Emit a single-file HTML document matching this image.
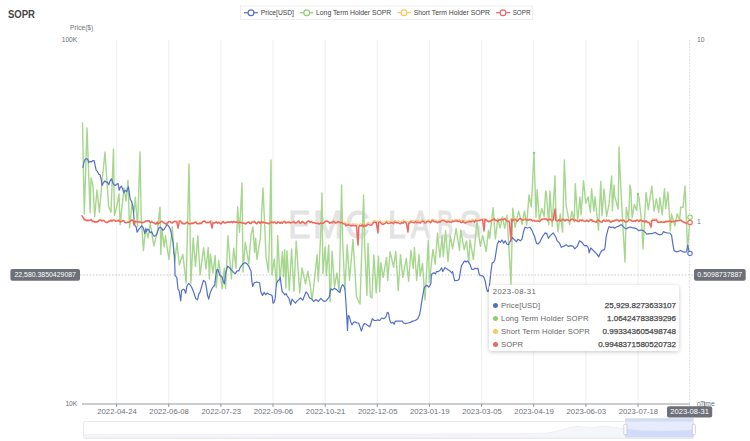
<!DOCTYPE html>
<html><head><meta charset="utf-8"><title>SOPR</title>
<style>
html,body{margin:0;padding:0;background:#fff;}
body{width:750px;height:441px;overflow:hidden;position:relative;font-family:"Liberation Sans",sans-serif;}
#root{position:absolute;left:0;top:0;width:750px;height:441px;}
svg{position:absolute;left:0;top:0;}
svg text{font-family:"Liberation Sans",sans-serif;}
#tip{position:absolute;left:489px;top:285px;width:190px;height:66px;background:#fff;border-radius:3px;
box-shadow:0 1px 4px rgba(0,0,0,0.22);font-size:7.7px;color:#666;}
#tip .d{position:absolute;left:3.7px;top:3.2px;line-height:8px;letter-spacing:0.42px;}
#tip .r{position:absolute;left:0;width:190px;height:9px;line-height:9px;}
#tip .r i{position:absolute;left:3.5px;top:2px;width:5px;height:5px;border-radius:50%;}
#tip .r span{position:absolute;left:12px;top:0;letter-spacing:0.13px;}
#tip .r b{position:absolute;right:3px;top:-0.3px;color:#484848;font-weight:normal;font-size:8px;-webkit-text-stroke:0.25px #484848;}
</style></head>
<body>
<div id="root">
<svg width="750" height="441" viewBox="0 0 750 441">
<text x="8" y="18" font-size="10.4" font-weight="bold" fill="#464646" textLength="27" lengthAdjust="spacingAndGlyphs">SOPR</text>
<!-- legend -->
<rect x="240.5" y="6" width="292" height="13.6" fill="#fff" stroke="#eaeaea" stroke-width="0.8"/>
<g stroke-width="1.2" fill="#fff">
<line x1="244" y1="12.7" x2="258" y2="12.7" stroke="#5470c6"/><circle cx="251" cy="12.7" r="2.9" stroke="#5470c6"/>
<line x1="300" y1="12.7" x2="313.3" y2="12.7" stroke="#91cc75"/><circle cx="306.7" cy="12.7" r="2.9" stroke="#91cc75"/>
<line x1="397.3" y1="12.7" x2="410.7" y2="12.7" stroke="#fac858"/><circle cx="404" cy="12.7" r="2.9" stroke="#fac858"/>
<line x1="496" y1="12.7" x2="510" y2="12.7" stroke="#ee6666"/><circle cx="503" cy="12.7" r="2.9" stroke="#ee6666"/>
</g>
<g font-size="6.8" fill="#444">
<text x="260.7" y="15.2" textLength="33.3" lengthAdjust="spacingAndGlyphs">Price[USD]</text>
<text x="316" y="15.2" textLength="75.3" lengthAdjust="spacingAndGlyphs">Long Term Holder SOPR</text>
<text x="413.7" y="15.2" textLength="76.3" lengthAdjust="spacingAndGlyphs">Short Term Holder SOPR</text>
<text x="512.7" y="15.2" textLength="17.7" lengthAdjust="spacingAndGlyphs">SOPR</text>
</g>
<!-- axis names / labels -->
<g font-size="6.7" fill="#6e7079">
<text x="70" y="30.1" textLength="23.3" lengthAdjust="spacingAndGlyphs">Price($)</text>
<text x="77.3" y="41.9" text-anchor="end">100K</text>
<text x="77.3" y="406.4" text-anchor="end">10K</text>
<text x="697" y="41.9">10</text>
<text x="697" y="224">1</text>
<text x="697" y="407">0.1</text>
<text x="700" y="406.2">Time</text>
</g>
<!-- watermark -->
<g font-size="38" fill="#e3e3e3" stroke="#e3e3e3" stroke-width="1">
<text x="288.2" y="237.5" textLength="22.3" lengthAdjust="spacingAndGlyphs">E</text>
<text x="313.0" y="237.5" textLength="30.3" lengthAdjust="spacingAndGlyphs">M</text>
<text x="345.5" y="237.5" textLength="23.9" lengthAdjust="spacingAndGlyphs">C</text>
<text x="387.9" y="237.5" textLength="17.7" lengthAdjust="spacingAndGlyphs">L</text>
<text x="410.9" y="237.5" textLength="19.0" lengthAdjust="spacingAndGlyphs">A</text>
<text x="437.1" y="237.5" textLength="16.2" lengthAdjust="spacingAndGlyphs">B</text>
<text x="459.4" y="237.5" textLength="22.2" lengthAdjust="spacingAndGlyphs">S</text>
</g>
<!-- grid -->
<g stroke="#ebebeb" stroke-width="0.75"><line x1="116.6" y1="40" x2="116.6" y2="404" /><line x1="168.7" y1="40" x2="168.7" y2="404" /><line x1="220.9" y1="40" x2="220.9" y2="404" /><line x1="273.0" y1="40" x2="273.0" y2="404" /><line x1="325.2" y1="40" x2="325.2" y2="404" /><line x1="377.3" y1="40" x2="377.3" y2="404" /><line x1="429.4" y1="40" x2="429.4" y2="404" /><line x1="481.6" y1="40" x2="481.6" y2="404" /><line x1="533.7" y1="40" x2="533.7" y2="404" /><line x1="585.9" y1="40" x2="585.9" y2="404" /><line x1="638.0" y1="40" x2="638.0" y2="404" /></g>
<!-- x axis -->
<line x1="82" y1="404" x2="690" y2="404" stroke="#6e7079" stroke-width="0.7"/>
<g stroke="#6e7079" stroke-width="0.7"><line x1="116.6" y1="404" x2="116.6" y2="407" /><line x1="168.7" y1="404" x2="168.7" y2="407" /><line x1="220.9" y1="404" x2="220.9" y2="407" /><line x1="273.0" y1="404" x2="273.0" y2="407" /><line x1="325.2" y1="404" x2="325.2" y2="407" /><line x1="377.3" y1="404" x2="377.3" y2="407" /><line x1="429.4" y1="404" x2="429.4" y2="407" /><line x1="481.6" y1="404" x2="481.6" y2="407" /><line x1="533.7" y1="404" x2="533.7" y2="407" /><line x1="585.9" y1="404" x2="585.9" y2="407" /><line x1="638.0" y1="404" x2="638.0" y2="407" /></g>
<g font-size="7.2" fill="#6e7079"><text x="117.0" y="414.1" text-anchor="middle" textLength="39.5" lengthAdjust="spacingAndGlyphs">2022-04-24</text><text x="169.1" y="414.1" text-anchor="middle" textLength="39.5" lengthAdjust="spacingAndGlyphs">2022-06-08</text><text x="221.3" y="414.1" text-anchor="middle" textLength="39.5" lengthAdjust="spacingAndGlyphs">2022-07-23</text><text x="273.4" y="414.1" text-anchor="middle" textLength="39.5" lengthAdjust="spacingAndGlyphs">2022-09-06</text><text x="325.6" y="414.1" text-anchor="middle" textLength="39.5" lengthAdjust="spacingAndGlyphs">2022-10-21</text><text x="377.7" y="414.1" text-anchor="middle" textLength="39.5" lengthAdjust="spacingAndGlyphs">2022-12-05</text><text x="429.8" y="414.1" text-anchor="middle" textLength="39.5" lengthAdjust="spacingAndGlyphs">2023-01-19</text><text x="482.0" y="414.1" text-anchor="middle" textLength="39.5" lengthAdjust="spacingAndGlyphs">2023-03-05</text><text x="534.1" y="414.1" text-anchor="middle" textLength="39.5" lengthAdjust="spacingAndGlyphs">2023-04-19</text><text x="586.3" y="414.1" text-anchor="middle" textLength="39.5" lengthAdjust="spacingAndGlyphs">2023-06-03</text><text x="638.4" y="414.1" text-anchor="middle" textLength="39.5" lengthAdjust="spacingAndGlyphs">2023-07-18</text></g>
<!-- series -->
<g fill="none" stroke-linejoin="round" stroke-linecap="round">
<path d="M82.5 123.0L84.3 214.1L87.0 128.0L90.1 212.7L91.0 178.0L93.0 186.0L94.7 216.8L97.0 190.0L99.4 212.2L102.0 182.0L105.0 152.0L108.6 206.2L111.0 212.3L113.5 149.0L114.4 215.2L116.7 206.8L119.0 194.0L120.2 224.6L122.5 202.1L124.0 188.0L126.0 201.0L128.0 180.0L129.5 228.0L131.8 204.8L134.1 211.8L135.3 197.2L137.6 226.7L140.0 152.0L141.1 213.8L143.4 250.4L145.7 227.9L148.0 237.9L150.3 223.5L153.8 245.9L157.3 231.9L160.0 207.0L160.8 254.5L161.9 229.5L164.2 247.0L165.4 235.7L168.9 259.4L172.3 226.9L174.6 262.5L177.0 242.8L179.3 265.0L182.8 254.3L186.2 283.0L189.0 164.0L190.9 283.1L193.2 238.0L195.5 266.5L197.8 235.8L200.1 275.0L203.6 247.6L205.9 268.9L208.2 247.6L209.4 279.1L210.5 254.2L212.9 273.1L215.2 255.5L216.3 287.8L218.7 260.5L222.1 288.7L224.4 268.1L225.6 288.3L227.9 235.6L231.4 279.0L233.7 248.1L236.0 268.3L237.6 207.0L239.5 232.3L242.0 183.0L243.0 272.1L245.3 242.2L248.8 263.9L251.1 234.3L253.0 227.0L254.6 252.4L255.7 238.3L256.9 259.4L260.3 238.6L263.0 188.0L266.1 257.1L268.5 272.1L269.6 234.7L271.0 160.0L271.9 274.9L274.2 259.1L276.6 285.6L277.7 235.4L280.0 281.1L282.4 251.7L283.5 276.8L284.7 249.6L285.8 288.2L287.0 250.6L289.3 290.6L291.6 248.9L293.9 291.4L296.2 241.0L299.7 293.0L302.0 268.0L305.5 283.8L307.8 271.1L310.1 283.9L312.0 300.0L313.6 287.8L317.1 254.8L318.3 281.4L320.6 237.4L322.0 193.0L322.9 273.5L325.2 246.9L326.4 275.6L328.7 245.0L330.0 302.0L331.0 282.4L332.1 251.3L334.5 287.1L336.8 272.9L339.1 291.3L341.6 185.0L342.6 240.2L344.9 289.9L347.2 244.7L349.5 280.2L353.0 239.5L356.5 296.6L360.0 304.0L363.6 195.0L364.6 243.4L366.9 295.4L368.0 243.4L370.4 296.5L372.0 298.0L373.8 254.9L376.2 292.7L378.5 256.3L379.6 291.8L380.8 262.7L383.1 277.3L386.6 257.4L387.7 280.6L390.1 251.6L393.5 267.1L395.8 251.3L398.2 290.6L400.5 254.6L402.8 277.4L406.3 258.4L408.6 281.2L410.9 250.2L413.2 268.4L414.4 247.8L416.7 280.4L419.0 254.5L420.2 276.1L422.5 263.4L425.0 300.0L428.3 240.3L429.4 282.8L432.9 249.5L435.2 264.3L437.5 233.2L439.9 257.4L442.2 235.9L443.3 256.8L445.6 230.6L448.0 261.4L450.3 235.8L452.6 248.8L456.1 228.7L459.5 250.3L460.7 229.9L464.2 249.8L466.5 240.9L468.8 262.7L470.0 239.9L473.4 259.4L476.9 221.3L480.4 246.3L482.7 235.4L486.2 251.6L488.5 230.1L489.6 238.6L493.1 207.8L495.4 239.0L497.8 218.7L500.1 227.8L502.4 216.9L504.7 228.4L507.0 215.2L511.0 284.0L512.8 208.3L515.1 227.4L518.6 211.1L522.1 224.4L524.4 211.2L526.7 225.0L529.0 195.0L531.3 206.9L534.0 153.0L536.0 217.3L537.1 189.7L539.4 220.3L541.8 208.4L544.1 216.4L545.6 191.0L546.4 192.8L548.7 224.8L549.9 190.9L552.2 226.4L553.3 204.9L555.0 176.0L555.7 207.6L558.0 231.7L560.3 214.0L562.6 232.1L564.4 160.0L566.1 205.3L569.6 224.5L571.9 211.1L574.2 221.7L575.3 183.8L577.7 220.7L580.0 197.0L581.1 214.8L583.5 180.8L585.8 203.2L588.1 197.0L590.4 212.5L591.6 188.6L593.9 211.1L595.0 196.8L598.5 230.1L600.8 181.4L602.0 215.9L604.0 189.0L606.6 216.4L608.9 205.2L611.6 176.0L612.4 211.0L614.0 185.0L614.7 196.2L618.2 209.3L619.0 147.0L620.5 182.1L622.8 224.4L625.0 262.0L626.3 207.5L628.6 219.8L630.0 185.0L630.9 190.0L632.1 218.0L634.4 204.4L636.7 210.6L638.0 194.5L639.0 197.7L641.4 220.3L643.0 249.0L644.8 214.4L646.0 192.4L648.3 209.7L651.8 186.1L654.1 211.2L656.4 198.9L658.7 212.5L659.9 197.6L662.2 214.9L664.5 188.6L665.7 208.3L668.0 192.0L670.3 230.9L671.5 214.0L674.9 226.0L677.3 213.7L679.6 220.3L680.7 207.1L683.1 207.4L685.0 186.0L687.6 250.0L690.0 217.2" stroke="#a6d78e" stroke-width="1.4"/>
<path d="M82.9 167.4L84.0 162.0L85.1 159.4L86.4 158.7L87.8 159.4L88.7 162.7L90.0 161.4L91.4 162.0L92.7 160.7L94.1 160.7L95.0 164.7L96.1 170.1L97.4 171.4L98.7 174.1L100.1 174.8L101.2 179.5L102.1 185.5L103.4 182.8L104.8 180.8L106.1 182.1L107.4 182.1L108.8 184.8L110.1 180.8L111.5 178.8L112.8 182.8L114.1 184.8L115.5 185.5L116.8 184.1L118.2 183.5L119.1 190.2L120.2 187.5L121.5 186.1L122.8 189.5L123.9 192.8L125.2 190.2L126.6 191.5L127.5 189.5L128.5 186.8L129.3 192.8L130.2 198.9L131.5 201.5L132.9 206.2L133.6 213.6L134.2 220.9L134.8 225.4L136.2 227.2L137.1 232.2L138.4 229.9L139.8 228.1L141.6 225.9L143.4 228.1L144.8 233.6L145.7 229.0L146.6 231.3L147.5 229.0L148.9 229.9L150.2 232.7L151.6 231.8L153.0 234.5L154.3 236.3L155.7 235.8L157.0 233.6L157.9 230.9L158.9 228.1L160.2 227.2L161.6 228.1L162.9 230.4L164.3 229.0L165.7 226.8L167.0 224.5L167.9 225.4L169.3 227.2L170.2 229.0L171.0 232.0L173.0 242.0L174.0 254.0L174.5 255.0L175.1 275.6L176.8 277.4L178.0 289.2L179.2 291.0L180.7 301.0L181.6 290.4L183.3 289.2L184.5 289.8L185.7 293.3L186.9 286.3L188.6 283.3L190.4 285.1L192.2 288.6L193.9 292.7L195.7 298.6L197.5 299.8L198.9 293.9L200.1 292.1L201.6 286.8L203.4 280.4L205.1 281.5L206.3 286.3L207.5 295.1L208.7 299.2L209.9 293.9L211.6 289.2L213.4 286.3L214.6 285.7L215.8 275.6L216.9 269.7L218.1 269.7L219.9 275.6L221.7 276.2L222.8 279.8L224.4 283.9L225.8 272.7L227.6 266.2L229.3 267.4L231.1 269.7L233.4 272.1L235.2 273.9L237.0 270.9L238.8 270.9L240.5 266.8L242.9 263.8L245.2 262.7L247.0 263.8L248.8 266.2L250.5 270.3L251.0 270.8L251.8 280.4L252.6 286.4L254.2 282.8L256.0 282.2L257.8 282.2L259.6 282.8L260.8 291.8L262.6 295.4L264.2 292.4L265.6 294.8L267.4 293.0L269.2 294.2L271.0 294.8L272.2 296.0L273.0 303.2L274.0 302.6L275.2 298.4L276.4 283.4L278.2 280.4L279.4 279.8L280.3 277.4L281.2 285.2L282.2 291.8L283.6 293.0L284.8 294.8L286.0 293.6L287.2 296.0L289.0 298.4L290.8 305.0L292.0 299.0L293.8 301.4L295.4 303.2L296.8 301.4L298.6 299.6L300.4 297.8L302.8 300.2L304.6 295.4L306.1 291.8L307.6 293.6L309.4 297.8L311.8 299.0L313.6 301.4L316.0 299.6L318.4 301.4L320.8 298.4L322.6 300.2L324.4 301.4L326.2 300.8L328.0 298.4L329.2 297.2L330.7 288.8L332.2 290.0L334.6 288.2L336.4 289.4L338.0 291.2L339.9 292.5L341.1 287.5L342.4 284.7L343.6 285.6L344.9 288.7L345.7 298.7L346.5 312.4L347.0 321.1L347.5 330.5L348.2 315.5L349.2 316.2L350.5 321.1L352.0 324.9L353.6 322.4L354.8 321.8L356.7 323.0L358.6 323.0L359.8 326.1L361.4 331.1L362.9 326.1L364.2 323.6L366.1 324.3L367.9 325.5L369.8 326.8L371.0 323.0L372.3 318.7L374.2 320.5L376.0 320.5L377.9 319.9L379.8 320.5L381.6 318.0L384.1 318.7L386.0 316.8L387.3 312.4L388.5 313.0L389.7 319.9L391.0 323.0L392.9 322.4L394.1 324.3L395.4 321.1L397.9 321.1L400.3 321.1L402.2 321.1L403.5 323.0L405.3 323.6L407.8 323.0L410.3 322.4L412.8 321.1L415.3 320.5L417.8 318.7L419.7 314.3L420.9 307.4L422.2 298.7L422.9 294.9L424.1 288.1L425.2 286.4L426.9 285.2L428.6 287.0L429.7 285.8L430.9 283.5L431.4 274.5L432.6 273.3L434.3 272.8L435.4 273.9L436.5 271.6L438.2 271.6L439.9 270.5L441.6 267.7L442.8 271.6L443.9 269.4L445.0 267.7L446.7 268.8L448.4 270.0L450.1 271.1L451.8 272.8L452.6 271.6L453.5 276.2L454.7 280.7L456.4 280.7L458.1 280.1L459.2 279.0L460.4 271.6L461.5 265.4L462.6 264.3L463.8 262.0L464.9 260.9L466.0 262.0L467.2 260.9L468.3 262.0L470.0 264.3L471.7 269.4L473.4 269.4L475.1 268.2L476.8 268.8L477.9 268.2L479.1 273.9L480.2 275.6L481.9 275.6L483.6 276.7L485.3 281.3L486.4 288.1L487.6 291.5L488.7 290.9L489.8 282.4L491.0 271.1L492.1 263.1L493.8 262.0L494.9 259.7L496.1 251.8L497.2 244.8L498.8 240.8L500.4 242.4L502.0 240.0L503.6 243.2L505.2 240.8L506.8 244.0L508.4 244.8L510.0 241.6L512.4 237.6L514.8 240.0L516.4 241.6L518.0 239.2L520.4 240.8L522.0 239.2L523.6 231.2L525.2 227.2L527.6 228.0L530.0 227.2L532.0 230.4L533.2 233.6L534.5 236.0L536.4 243.2L538.0 244.0L539.6 242.4L541.2 239.2L542.8 236.0L545.2 232.8L546.8 233.6L548.4 238.4L550.0 236.0L551.6 234.4L553.2 232.8L555.6 236.8L557.2 240.8L559.6 243.2L561.2 247.2L563.6 246.4L566.0 244.8L568.4 246.4L570.8 245.6L573.2 246.4L574.8 248.8L577.2 246.4L579.6 240.8L582.0 242.4L584.4 245.6L586.8 245.6L588.4 248.0L589.2 252.8L590.8 248.0L593.2 250.4L594.8 252.0L596.4 253.6L598.8 256.8L600.4 252.8L602.0 250.4L604.4 249.6L605.0 247.4L606.2 236.6L608.0 229.4L609.2 226.4L611.0 227.6L612.8 227.0L614.6 228.2L616.4 227.0L618.2 226.4L620.0 225.2L621.2 224.6L623.0 226.4L624.8 228.2L626.6 228.8L628.4 227.6L630.2 227.0L632.0 227.6L634.4 228.2L636.8 228.8L638.6 230.6L641.0 230.0L643.4 230.6L645.2 232.4L647.0 234.2L649.4 233.6L651.8 233.6L653.6 233.0L655.4 232.4L657.8 234.2L660.2 234.8L662.0 234.2L663.6 231.6L665.0 232.4L667.4 233.0L669.8 233.0L671.6 235.4L672.8 243.8L674.0 250.4L675.8 251.6L677.6 251.6L679.4 251.0L680.6 250.4L682.4 251.6L684.8 252.2L686.6 251.6L687.8 245.0L689.0 251.0L690.0 253.4" stroke="#5470c6" stroke-width="1.2"/>
<path d="M82.0 215.8L83.2 217.0L84.3 218.4L85.5 219.2L86.6 220.1L87.8 219.4L88.9 220.1L90.1 219.9L91.3 219.4L92.4 220.8L93.6 220.9L94.7 221.2L95.9 221.5L97.1 221.2L98.2 220.4L99.4 219.5L100.5 218.9L101.7 220.8L102.8 220.0L104.0 220.4L105.2 221.7L106.3 222.1L107.5 221.5L108.6 220.9L109.8 220.4L111.0 219.6L112.1 220.0L113.3 219.7L114.4 219.8L115.6 220.4L116.7 219.8L117.9 220.7L119.1 219.2L120.2 221.4L121.4 220.4L122.5 220.3L123.7 220.4L124.8 221.2L126.0 222.6L127.2 221.9L128.3 221.7L129.5 220.9L130.6 219.5L131.8 219.1L133.0 220.1L134.1 219.7L135.3 220.5L136.4 220.9L137.6 221.6L138.7 221.3L139.9 220.7L141.1 222.2L142.2 222.0L143.4 221.6L144.5 221.9L145.7 220.6L146.9 220.8L148.0 220.5L149.2 220.5L150.3 222.4L151.5 220.6L152.6 221.9L153.8 222.6L155.0 222.7L156.1 223.7L157.3 221.4L158.4 221.2L159.6 221.7L160.8 221.6L161.9 220.6L163.1 221.4L164.2 223.0L165.4 223.7L166.5 222.6L167.7 221.7L168.9 221.5L170.0 221.3L171.2 222.0L172.3 222.3L173.5 220.8L174.6 220.9L175.8 221.2L177.0 221.3L178.1 221.3L179.3 220.1L180.4 220.8L181.6 221.6L182.8 223.1L183.9 223.4L185.1 223.3L186.2 221.9L187.4 220.9L188.5 223.4L189.7 222.5L190.9 223.3L192.0 222.0L193.2 223.1L194.3 221.8L195.5 221.3L196.7 222.3L197.8 223.5L199.0 223.2L200.1 222.2L201.3 223.2L202.4 221.3L203.6 220.7L204.8 220.4L205.9 222.2L207.1 221.8L208.2 221.9L209.4 221.7L210.5 220.5L211.7 220.7L212.9 222.6L214.0 222.8L215.2 222.2L216.3 221.6L217.5 222.4L218.7 222.0L219.8 222.4L221.0 223.4L222.1 221.4L223.3 221.4L224.4 222.7L225.6 222.1L226.8 221.4L227.9 221.7L229.1 221.6L230.2 222.4L231.4 221.1L232.6 222.1L233.7 220.9L234.9 221.9L236.0 221.7L237.2 221.3L238.3 221.8L239.5 221.2L240.7 222.2L241.8 221.7L243.0 222.9L244.1 222.7L245.3 223.6L246.4 222.6L247.6 222.2L248.8 221.8L249.9 222.4L251.1 222.3L252.2 221.0L253.4 220.9L254.6 220.6L255.7 222.2L256.9 223.0L258.0 221.7L259.2 221.1L260.3 222.6L261.5 220.8L262.7 221.5L263.8 221.8L265.0 222.2L266.1 222.7L267.3 222.6L268.5 223.2L269.6 222.2L270.8 220.9L271.9 221.2L273.1 222.6L274.2 221.2L275.4 221.7L276.6 222.8L277.7 221.5L278.9 221.7L280.0 223.0L281.2 221.1L282.4 223.0L283.5 220.9L284.7 221.1L285.8 222.1L287.0 222.1L288.1 221.3L289.3 221.1L290.5 222.3L291.6 222.0L292.8 222.2L293.9 220.9L295.1 222.7L296.2 222.5L297.4 221.3L298.6 220.0L299.7 222.3L300.9 222.5L302.0 220.8L303.2 221.7L304.4 223.2L305.5 223.2L306.7 222.1L307.8 221.0L309.0 220.6L310.1 222.1L311.3 221.0L312.5 222.5L313.6 222.3L314.8 222.5L315.9 222.6L317.1 222.5L318.3 222.9L319.4 223.5L320.6 222.7L321.7 222.5L322.9 222.3L324.0 222.1L325.2 221.3L326.4 220.2L327.5 220.3L328.7 221.2L329.8 222.6L331.0 221.8L332.1 221.7L333.3 220.5L334.5 221.6L335.6 222.0L336.8 222.2L337.9 220.9L339.1 221.6L340.3 221.8L341.4 221.1L342.6 222.0L343.7 222.1L344.9 221.8L346.0 224.5L347.2 222.7L348.4 223.8L349.5 223.8L350.7 224.3L351.8 224.1L353.0 223.6L354.2 224.0L355.3 224.1L356.5 223.8L357.6 224.0L358.8 225.6L359.9 223.8L361.1 223.9L362.3 223.6L363.4 225.5L364.6 223.7L365.7 224.3L366.9 223.4L368.0 222.0L369.2 222.9L370.4 223.4L371.5 223.3L372.7 221.8L373.8 220.2L375.0 220.6L376.2 221.2L377.3 221.7L378.5 220.8L379.6 219.8L380.8 220.8L381.9 221.9L383.1 222.8L384.3 222.0L385.4 221.6L386.6 219.9L387.7 221.5L388.9 221.4L390.1 221.5L391.2 220.5L392.4 221.6L393.5 221.5L394.7 220.5L395.8 220.6L397.0 221.7L398.2 220.4L399.3 221.3L400.5 221.7L401.6 221.2L402.8 221.3L404.0 219.5L405.1 220.7L406.3 221.6L407.4 221.5L408.6 221.4L409.7 221.4L410.9 220.2L412.1 221.1L413.2 220.5L414.4 221.4L415.5 219.8L416.7 221.3L417.8 220.0L419.0 221.5L420.2 221.1L421.3 219.9L422.5 219.7L423.6 220.2L424.8 221.0L426.0 221.5L427.1 220.2L428.3 219.7L429.4 220.2L430.6 221.6L431.7 219.0L432.9 219.4L434.1 220.2L435.2 219.7L436.4 220.9L437.5 221.2L438.7 220.7L439.9 220.7L441.0 220.2L442.2 219.5L443.3 219.2L444.5 219.8L445.6 219.5L446.8 220.4L448.0 219.9L449.1 220.7L450.3 220.9L451.4 220.2L452.6 219.9L453.7 220.6L454.9 219.3L456.1 219.8L457.2 219.1L458.4 219.9L459.5 219.1L460.7 221.1L461.9 220.8L463.0 220.0L464.2 220.5L465.3 221.9L466.5 221.1L467.6 220.3L468.8 220.2L470.0 220.1L471.1 220.9L472.3 219.0L473.4 219.6L474.6 220.6L475.8 218.6L476.9 219.3L478.1 218.4L479.2 218.9L480.4 219.8L481.5 219.3L482.7 218.6L483.9 218.9L485.0 218.8L486.2 219.3L487.3 219.9L488.5 220.9L489.6 220.9L490.8 219.6L492.0 218.8L493.1 219.1L494.3 218.0L495.4 220.0L496.6 219.5L497.8 220.4L498.9 219.0L500.1 219.7L501.2 219.0L502.4 219.3L503.5 218.3L504.7 217.9L505.9 219.3L507.0 220.7L508.2 220.8L509.3 221.2L510.5 218.9L511.7 218.1L512.8 220.0L514.0 219.3L515.1 218.5L516.3 219.2L517.4 221.0L518.6 218.9L519.8 218.4L520.9 218.1L522.1 219.7L523.2 218.8L524.4 218.3L525.6 218.7L526.7 219.1L527.9 219.6L529.0 219.1L530.2 218.8L531.3 219.4L532.5 220.7L533.7 220.2L534.8 219.9L536.0 220.1L537.1 220.1L538.3 220.7L539.4 221.5L540.6 219.3L541.8 219.2L542.9 218.4L544.1 218.0L545.2 218.8L546.4 218.2L547.6 219.8L548.7 218.8L549.9 218.0L551.0 219.1L552.2 219.9L553.3 218.8L554.5 218.8L555.7 219.6L556.8 220.7L558.0 220.4L559.1 219.2L560.3 220.3L561.5 219.1L562.6 218.8L563.8 218.7L564.9 220.8L566.1 219.2L567.2 219.3L568.4 219.5L569.6 220.9L570.7 219.3L571.9 218.4L573.0 218.3L574.2 220.1L575.3 218.9L576.5 220.2L577.7 221.0L578.8 220.5L580.0 219.6L581.1 219.6L582.3 218.9L583.5 220.2L584.6 221.3L585.8 220.2L586.9 219.8L588.1 220.4L589.2 220.5L590.4 219.4L591.6 219.1L592.7 220.2L593.9 220.9L595.0 221.1L596.2 222.2L597.4 219.5L598.5 219.7L599.7 221.0L600.8 221.3L602.0 221.3L603.1 220.1L604.3 219.3L605.5 220.3L606.6 219.3L607.8 219.9L608.9 219.8L610.1 220.5L611.2 221.9L612.4 220.7L613.6 220.5L614.7 219.7L615.9 219.2L617.0 219.0L618.2 219.8L619.4 220.2L620.5 220.0L621.7 219.8L622.8 219.8L624.0 219.8L625.1 220.7L626.3 221.3L627.5 221.1L628.6 220.1L629.8 218.8L630.9 219.9L632.1 221.0L633.3 221.2L634.4 220.0L635.6 220.3L636.7 219.9L637.9 220.2L639.0 220.0L640.2 219.2L641.4 219.3L642.5 220.3L643.7 220.3L644.8 221.6L646.0 220.6L647.2 220.9L648.3 222.0L649.5 222.4L650.6 222.0L651.8 219.5L652.9 218.9L654.1 219.0L655.3 219.1L656.4 218.7L657.6 221.7L658.7 221.4L659.9 222.0L661.0 221.0L662.2 222.3L663.4 221.2L664.5 221.9L665.7 220.6L666.8 220.9L668.0 220.8L669.2 221.0L670.3 220.2L671.5 220.8L672.6 220.3L673.8 221.5L674.9 221.2L676.1 220.6L677.3 219.9L678.4 220.5L679.6 219.3L680.7 219.4L681.9 220.3L683.1 221.2L684.2 221.7L685.4 222.1L686.5 222.9L687.7 222.8L688.8 221.9L690.0 222.5" stroke="#fac858" stroke-width="1"/>
<path d="M82.0 215.9L83.2 217.6L84.3 219.5L85.5 220.2L86.6 220.7L87.8 220.3L88.9 220.4L90.1 220.2L91.3 219.6L92.4 221.6L93.6 221.4L94.7 222.2L95.9 221.7L97.1 222.0L98.2 221.3L99.4 220.4L100.5 219.9L101.7 220.9L102.8 220.7L104.0 220.6L105.2 221.9L106.3 222.6L107.5 222.5L108.6 221.4L109.8 221.2L111.0 220.3L112.1 221.2L113.3 220.3L114.4 220.5L115.6 221.2L116.7 220.9L117.9 221.0L119.1 220.5L120.2 221.9L121.4 221.6L122.5 220.8L123.7 220.7L124.8 222.4L126.0 222.8L127.2 222.5L128.3 222.3L129.5 222.0L130.6 220.7L131.8 220.2L133.0 220.3L134.0 225.0L135.3 221.5L136.4 221.6L137.6 222.1L138.7 221.9L139.9 222.0L141.1 222.3L142.2 222.7L143.4 222.5L144.5 222.1L145.7 221.1L146.9 220.9L148.0 221.0L149.2 220.8L150.3 222.6L151.5 221.8L152.6 222.4L153.8 222.8L155.0 223.7L156.1 224.0L157.3 222.1L158.0 224.0L159.6 222.8L160.8 221.8L161.9 221.4L163.1 222.2L164.2 223.2L165.4 224.0L166.5 223.3L167.7 223.0L168.9 221.6L170.0 221.5L171.2 222.8L172.3 222.9L173.5 222.0L174.6 221.5L175.8 221.4L177.0 222.6L178.0 228.0L179.3 221.3L180.4 221.0L181.6 222.6L182.8 223.8L183.9 223.6L185.1 223.8L186.2 223.0L187.4 222.1L188.5 223.6L189.7 223.7L190.9 223.8L192.0 223.2L193.2 223.6L194.3 222.7L195.5 222.1L196.7 223.5L197.8 223.7L199.0 223.8L200.1 223.2L201.3 223.5L202.4 222.0L203.6 221.4L204.8 221.1L205.9 222.5L207.1 222.8L208.2 222.6L209.4 222.1L210.5 221.4L212.0 228.0L212.9 222.8L214.0 223.0L215.2 222.8L216.3 221.9L217.5 223.4L218.7 222.2L219.8 223.1L221.0 224.0L222.1 222.3L223.3 221.5L224.4 223.1L225.6 222.7L226.8 222.4L227.9 222.3L229.1 221.7L230.2 222.5L231.4 221.7L232.6 222.7L233.7 221.5L234.9 222.2L236.0 222.3L237.2 222.1L238.3 222.8L239.5 222.1L240.7 222.7L241.8 222.7L243.0 223.2L244.1 223.2L245.3 224.0L246.4 223.5L247.6 222.4L248.8 221.9L249.9 223.5L251.1 223.4L252.2 222.1L253.4 221.9L254.6 221.7L255.7 223.2L256.9 223.8L258.0 221.9L259.2 222.1L260.3 223.5L261.5 221.8L262.7 222.8L263.8 222.0L265.0 222.8L266.1 223.0L267.3 223.2L268.5 223.7L269.6 223.3L270.8 222.1L271.9 222.2L273.1 222.8L274.2 222.0L275.4 222.8L276.6 223.5L277.7 221.8L278.9 222.2L280.0 223.3L281.2 222.4L282.4 223.3L283.5 221.9L284.7 221.5L285.8 223.1L287.0 222.4L288.1 222.3L289.3 222.4L290.5 223.1L291.6 222.4L292.8 222.3L293.9 221.6L295.1 223.1L296.2 223.0L297.4 222.1L298.6 221.2L299.7 222.9L300.9 223.1L302.0 221.8L303.2 221.9L304.4 223.3L305.5 223.9L306.7 222.3L307.8 221.3L309.0 221.2L310.1 222.4L311.3 221.5L312.5 222.8L313.6 222.4L314.8 223.0L315.9 223.3L317.1 223.5L318.3 223.4L319.4 224.0L320.6 223.0L321.7 223.4L322.9 223.2L324.0 222.7L325.2 221.5L326.4 221.1L327.5 221.5L328.7 222.1L329.8 223.3L331.0 222.4L332.1 222.7L333.3 221.5L334.5 222.2L335.6 223.1L336.8 222.6L337.9 221.7L339.1 222.1L340.3 222.8L341.4 222.2L342.6 223.4L343.7 223.7L344.9 223.9L346.0 225.9L347.2 224.8L348.4 225.0L349.5 225.3L350.7 225.4L351.8 226.0L353.0 225.1L354.2 226.0L355.3 225.4L356.5 225.6L358.0 245.0L358.8 227.0L359.9 225.6L361.1 226.1L362.3 224.9L363.4 226.7L364.6 225.3L365.7 226.3L366.9 225.1L368.0 224.1L369.2 224.7L370.4 225.0L371.5 225.2L372.7 223.7L373.8 222.1L375.0 222.2L376.2 222.2L378.0 233.0L378.5 222.4L379.6 221.8L380.8 222.9L381.9 224.0L383.1 224.5L384.3 223.7L385.4 223.3L386.6 222.0L387.7 223.2L388.9 223.5L390.1 223.0L391.2 222.5L392.4 223.0L393.5 223.6L394.7 221.9L395.8 222.5L397.0 222.9L398.2 222.5L399.3 223.5L400.5 223.8L401.6 222.6L402.8 223.3L404.0 221.7L405.1 222.2L406.3 223.2L408.0 232.0L408.6 223.1L409.7 223.1L410.9 221.5L412.1 222.1L413.2 222.5L414.4 222.9L415.5 221.5L416.7 222.7L417.8 222.2L419.0 222.5L420.2 223.1L421.3 221.6L422.5 221.2L423.6 221.5L424.8 222.8L426.0 222.9L427.1 221.5L428.3 221.2L429.4 221.6L430.6 222.7L431.7 221.2L432.9 220.5L434.1 221.7L435.2 221.5L436.4 221.9L437.5 222.7L438.7 221.8L439.9 222.3L441.0 221.2L442.2 220.6L443.3 220.4L444.5 221.1L445.6 221.3L446.8 222.2L448.0 221.4L449.1 221.9L450.3 222.0L451.4 222.4L452.6 221.1L453.7 221.6L454.9 221.0L456.1 221.1L457.2 220.7L458.4 221.7L459.5 221.1L460.7 222.4L461.9 222.6L463.0 221.2L464.2 222.6L465.3 223.1L466.5 222.4L467.6 221.9L468.8 221.8L470.0 221.3L471.1 221.9L472.3 221.1L473.4 220.9L474.6 222.1L475.8 220.4L476.9 220.8L478.1 220.6L479.2 220.5L480.4 220.1L481.5 220.0L482.7 219.7L484.0 231.0L485.0 219.4L486.2 219.7L487.3 220.9L488.5 221.6L489.6 221.8L490.8 220.8L492.0 220.1L493.1 219.7L494.3 219.0L495.4 220.6L496.6 220.6L497.8 221.4L498.9 219.8L500.1 220.2L501.2 219.3L502.4 219.4L503.5 219.5L504.7 218.7L505.9 220.0L507.0 220.9L508.2 221.3L509.3 221.7L511.0 241.0L511.7 219.3L512.8 220.7L514.0 219.6L515.1 219.5L516.3 220.3L517.4 221.2L518.6 219.5L519.8 218.6L520.9 218.8L522.1 220.1L523.2 220.0L524.4 219.6L525.6 219.1L526.7 219.8L527.9 220.3L529.0 219.9L530.2 219.7L531.3 219.8L532.5 220.9L533.7 220.4L534.8 221.0L536.0 221.3L537.1 220.9L538.3 221.1L539.4 221.7L540.6 220.6L541.8 219.3L542.9 219.4L544.1 218.9L545.2 219.2L546.4 219.0L547.6 220.6L548.7 219.5L549.9 219.3L551.0 220.0L552.2 220.9L553.3 219.6L555.0 209.0L555.7 220.1L556.8 220.9L558.0 220.7L559.1 219.6L560.3 221.1L561.5 220.1L562.6 219.6L563.8 219.8L564.9 220.9L566.1 219.8L567.2 220.0L568.4 220.2L569.6 221.0L570.7 220.2L571.9 219.2L573.0 219.4L574.2 220.8L575.3 220.0L576.5 220.5L577.7 221.4L578.8 221.6L580.0 220.1L581.1 220.7L582.3 220.2L583.5 220.9L584.6 221.5L585.8 221.1L586.9 220.3L588.1 221.6L589.2 220.8L590.4 219.9L591.6 219.7L592.7 221.4L593.9 221.5L595.0 221.9L596.2 222.3L597.4 220.4L598.5 220.0L599.7 221.4L600.8 221.9L602.0 222.3L603.1 220.5L604.3 220.6L605.5 221.4L606.6 220.5L607.8 221.0L608.9 220.5L610.1 221.8L611.2 222.3L612.4 221.0L613.6 221.3L614.7 220.5L615.9 220.4L617.0 219.9L618.2 220.4L619.4 221.4L620.5 220.3L621.7 220.8L622.8 220.3L624.0 220.6L625.1 221.9L626.3 221.8L627.5 221.6L628.6 220.2L629.8 219.6L630.9 220.2L632.1 221.2L633.3 221.4L634.4 220.8L635.6 221.2L636.7 220.3L637.9 220.5L639.0 221.3L640.2 220.3L641.4 220.4L642.5 221.3L643.7 221.1L644.8 222.4L646.0 220.7L647.2 222.2L648.3 222.6L649.5 222.9L651.0 227.0L651.8 220.7L652.9 220.2L654.1 220.2L655.3 219.9L656.4 220.0L657.6 221.9L658.7 222.6L659.9 222.2L661.0 221.7L662.2 222.5L663.4 222.1L664.5 222.4L665.7 221.4L666.8 221.9L668.0 221.5L669.2 221.2L670.3 220.9L671.5 222.1L672.6 221.4L673.8 221.6L674.9 221.4L676.1 220.7L677.3 220.8L678.4 220.7L679.6 220.6L680.7 220.1L681.9 221.2L683.1 221.9L684.2 222.6L685.4 222.8L686.5 223.4L687.7 223.6L688.8 223.0L690.0 222.4" stroke="#ee6666" stroke-width="1.5"/>
</g>
<!-- crosshair -->
<line x1="80" y1="275" x2="694" y2="275" stroke="#a8a8b2" stroke-width="0.6" stroke-dasharray="1.6 1.6"/>
<line x1="689.6" y1="40" x2="689.6" y2="406" stroke="#c4c6d4" stroke-width="0.7" stroke-dasharray="1.6 1.6"/>
<!-- end markers -->
<circle cx="534" cy="153" r="1.3" fill="#91cc75"/><circle cx="638" cy="194" r="1.2" fill="#91cc75"/>
<g fill="#fff" stroke-width="1.1">
<circle cx="690" cy="217.2" r="2.2" stroke="#91cc75"/>
<circle cx="690" cy="222.5" r="2.2" stroke="#fac858"/>
<circle cx="690" cy="222.4" r="2.2" stroke="#ee6666"/>
<circle cx="690" cy="253.4" r="2.2" stroke="#5470c6"/>
</g>
<!-- axis pointer labels -->
<rect x="10.4" y="269" width="69.6" height="11.7" rx="2" fill="#6e7079"/>
<text x="45.2" y="277.4" font-size="7" fill="#fff" text-anchor="middle" textLength="61.5" lengthAdjust="spacingAndGlyphs">22,580.3850429087</text>
<rect x="694" y="269" width="51.7" height="11.7" rx="2" fill="#6e7079"/>
<text x="719.8" y="277.4" font-size="7" fill="#fff" text-anchor="middle" textLength="45" lengthAdjust="spacingAndGlyphs">0.5098737887</text>
<rect x="667" y="406.2" width="45.2" height="11.2" rx="2" fill="#6e7079"/>
<text x="689.6" y="414.3" font-size="7" fill="#fff" text-anchor="middle" textLength="38.5" lengthAdjust="spacingAndGlyphs">2023-08-31</text>
<!-- datazoom -->
<rect x="83.5" y="421.5" width="610" height="17" rx="1.5" fill="none" stroke="#e3e6ee" stroke-width="0.8"/>
<path d="M84.0 434.6L200.0 434.5L300.0 434.3L400.0 434.2L450.0 434.0L520.0 433.8L545.0 433.2L556.0 431.5L566.0 428.5L578.0 426.2L586.0 427.5L592.0 428.0L600.0 426.5L606.0 426.2L614.0 427.5L625.0 428.5L640.0 430.0L660.0 430.8L680.0 430.5L693.0 430.0L693 438L84 438Z" fill="#f5f6f9" stroke="#e6e8ee" stroke-width="0.6"/>
<rect x="625" y="418.3" width="68.6" height="19.2" fill="#dfe6fb" opacity="0.75"/>
<rect x="625" y="418.3" width="68.6" height="3.2" fill="#d3dbf3"/>
<path d="M625 429L640 430.5L660 431L680 430.5L693.5 430L693.5 437.3L625 437.3Z" fill="#c9d5f7" opacity="0.7"/>
<rect x="623.9" y="424.2" width="3" height="10.6" rx="1" fill="#fff" stroke="#aeb6c8" stroke-width="0.6"/>
<rect x="692.3" y="424.2" width="3" height="10.6" rx="1" fill="#fff" stroke="#aeb6c8" stroke-width="0.6"/>
</svg>
<div id="tip">
<div class="d">2023-08-31</div>
<div class="r" style="top:16.1px"><i style="background:#5470c6"></i><span>Price[USD]</span><b>25,929.8273633107</b></div>
<div class="r" style="top:29px"><i style="background:#91cc75"></i><span>Long Term Holder SOPR</span><b>1.06424783839296</b></div>
<div class="r" style="top:42px"><i style="background:#fac858"></i><span>Short Term Holder SOPR</span><b>0.993343605498748</b></div>
<div class="r" style="top:55.2px"><i style="background:#ee6666"></i><span>SOPR</span><b>0.9948371580520732</b></div>
</div>
</div>
</body></html>
